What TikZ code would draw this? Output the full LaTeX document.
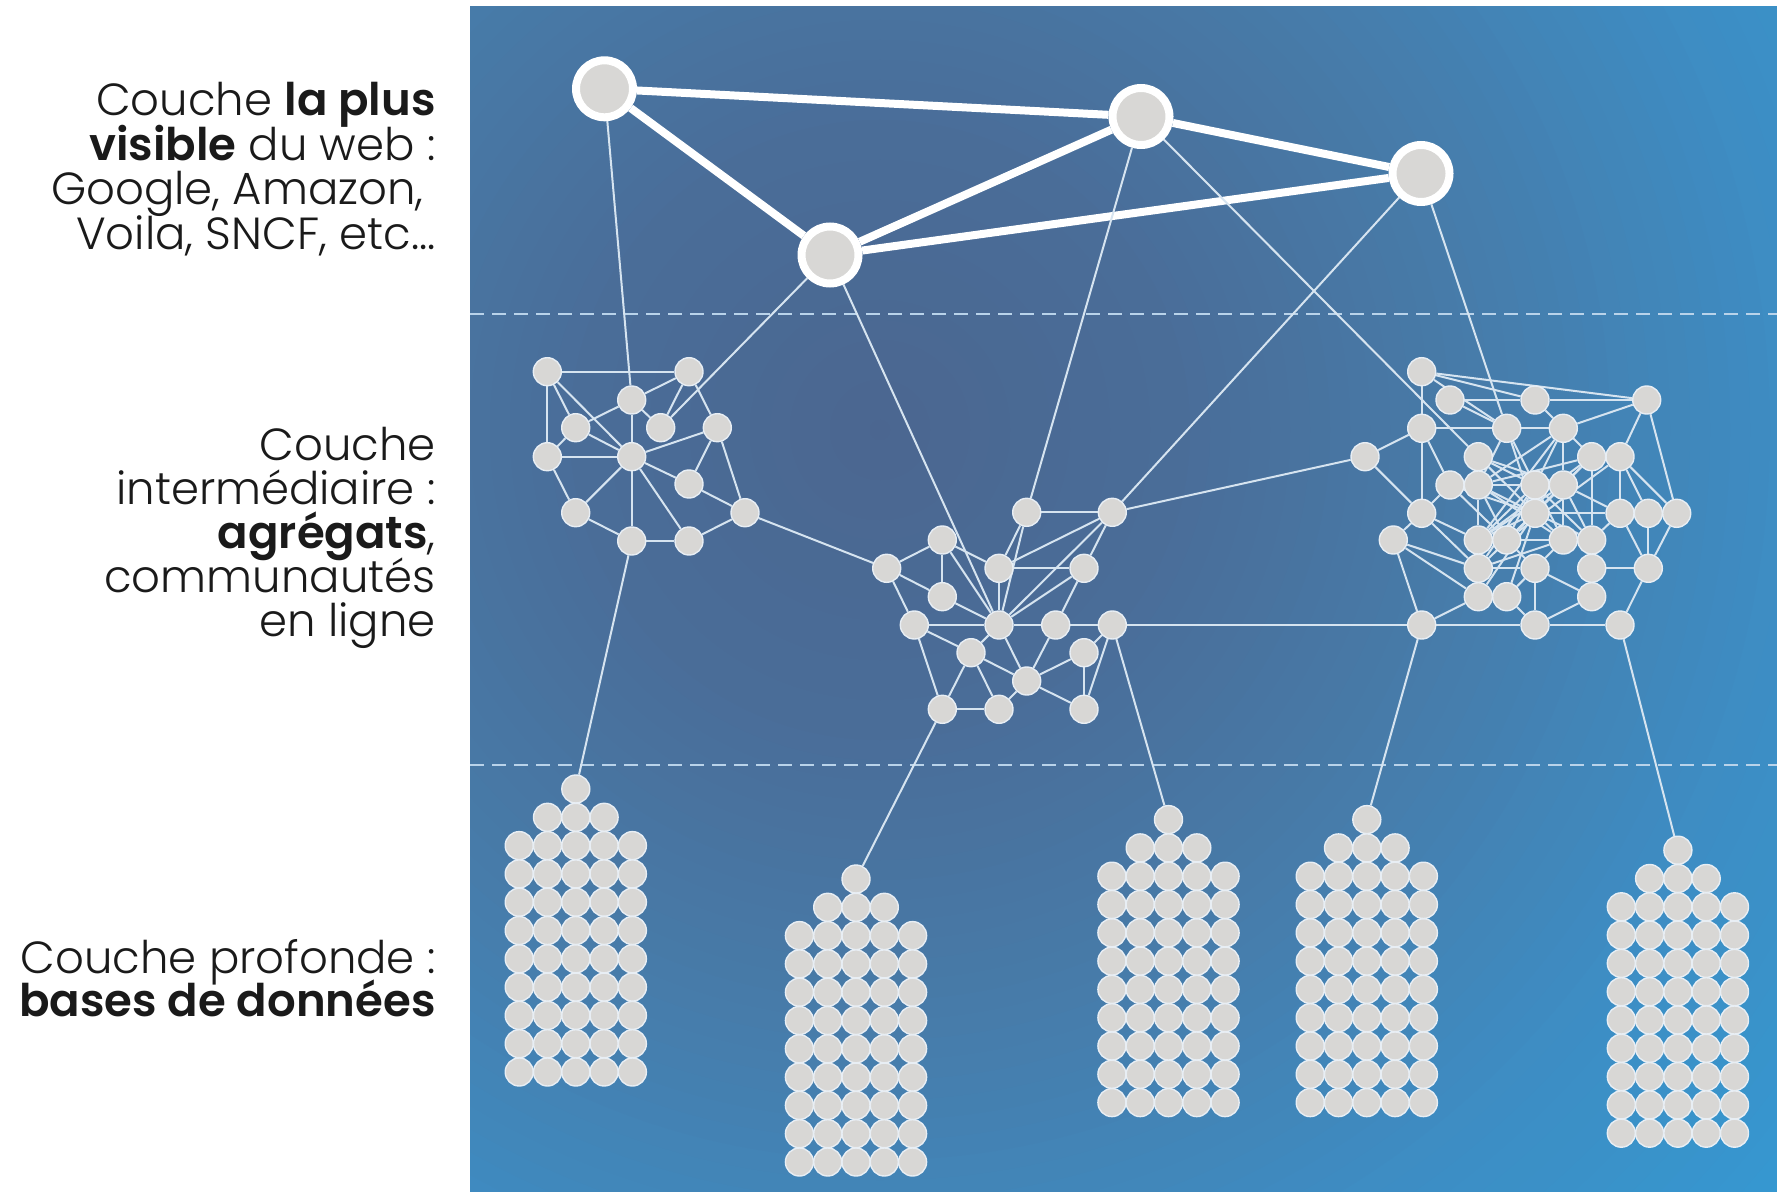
\documentclass[tikz,border=0pt]{standalone}
\usepackage{fontspec}
\setmainfont{Poppins}[UprightFont={* Light},BoldFont={* SemiBold}]
\definecolor{nodegray}{HTML}{D8D7D5}
\definecolor{nodeedge}{HTML}{E8EEF4}
\definecolor{lnkcol}{HTML}{D6E4F0}
\definecolor{dashcol}{HTML}{B9D3EA}
\definecolor{txt}{HTML}{1A1A1A}
\definecolor{bgA}{HTML}{4B6690}
\definecolor{bgB}{HTML}{4A6D98}
\definecolor{bgC}{HTML}{477BA9}
\definecolor{bgD}{HTML}{3E8CC2}
\definecolor{bgE}{HTML}{3598D1}
\pgfdeclarelayer{bg}
\pgfdeclarelayer{edges}
\pgfsetlayers{bg,edges,main}
\begin{document}
\begin{tikzpicture}[x=0.5pt,y=-0.5pt,
  sn/.style={circle,fill=nodegray,draw=nodeedge,line width=0.7pt,minimum size=14pt,inner sep=0pt},
  db/.style={circle,fill=nodegray,draw=nodeedge,line width=0.7pt,minimum size=14pt,inner sep=0pt},
  big/.style={circle,fill=nodegray,draw=white,line width=4pt,minimum size=28.5pt,inner sep=0pt},
  lnk/.style={draw=lnkcol,line width=1pt},
  bigedge/.style={draw=white,line width=4pt},
  dashln/.style={draw=dashcol,line width=1.3pt,dash pattern=on 7pt off 4pt},
  lab/.style={anchor=base east,inner sep=0pt,text=txt,font=\fontsize{22.5}{26}\selectfont}]
\useasboundingbox (0,0) rectangle (1777,1192);
\begin{pgfonlayer}{bg}
  \fill[white] (0,0) rectangle (1777,1192);
  \begin{scope}
    \clip (470,7) rectangle (1777,1192);
    \fill[bgE] (470,7) rectangle (1777,1192);
    \foreach \r in {1250,1230,...,10}{
      \ifdim\r pt>900pt
        \pgfmathsetmacro\p{min(100,(\r-900)/3)}
        \fill[bgE!\p!bgD] (880,430) circle ({\r*0.5pt});
      \else\ifdim\r pt>600pt
        \pgfmathsetmacro\p{(\r-600)/3}
        \fill[bgD!\p!bgC] (880,430) circle ({\r*0.5pt});
      \else\ifdim\r pt>300pt
        \pgfmathsetmacro\p{(\r-300)/3}
        \fill[bgC!\p!bgB] (880,430) circle ({\r*0.5pt});
      \else
        \pgfmathsetmacro\p{\r/3}
        \fill[bgB!\p!bgA] (880,430) circle ({\r*0.5pt});
      \fi\fi\fi
    }
  \end{scope}
  \coordinate (d1a) at (470,314); \coordinate (d1b) at (1777,314);
  \coordinate (d2a) at (470,765); \coordinate (d2b) at (1777,765);
  \draw[dashln] (d1a) -- (d1b);
  \draw[dashln] (d2a) -- (d2b);
\end{pgfonlayer}

% labels
\node[lab] (t1a) at (436,116) {Couche \textbf{la plus}};
\node[lab] (t1b) at (436,160.5) {\textbf{visible} du web :};
\node[lab] (t1c) at (424,205) {Google, Amazon,};
\node[lab] (t1d) at (436,249.5) {Voila, SNCF, etc...};
\node[lab] (t2a) at (436,460) {Couche};
\node[lab] (t2b) at (436,504.5) {intermédiaire :};
\node[lab] (t2c) at (436,548.5) {\textbf{agrégats},};
\node[lab] (t2d) at (436,592.5) {communautés};
\node[lab] (t2e) at (436,636) {en ligne};
\node[lab] (t3a) at (436,973.5) {Couche profonde :};
\node[lab] (t3b) at (436,1016) {\textbf{bases de données}};

% top nodes
\node[big] (T1) at (604.5,88.8) {};
\node[big] (T2) at (1141,116.5) {};
\node[big] (T3) at (1421,173.5) {};
\node[big] (T4) at (830,255) {};

% left cluster
\foreach \n/\x/\y in {L1/547.3/371.7, L2/689/371.7, L3/631.7/400, L4/575.7/427.7, L5/660.7/427.7,
  L6/717.3/427.7, L7/547.3/456.7, L8/631.7/456.7, L9/689/484, L10/575.7/512.7, L11/745/512.7,
  L12/631.7/541, L13/689/541}
  \node[sn] (\n) at (\x,\y) {};

% centre cluster
\foreach \n/\x/\y in {C1/1026.7/512.3, C2/1112.3/512.3, C3/942.3/540, C4/886.7/568.3, C5/999/568.3,
  C6/1084/568.3, C7/942.3/596.7, C8/914.3/625, C9/999/625, C10/1055.7/625, C11/1112.3/625,
  C12/971/652.7, C13/1084/652.7, C14/1026.7/681, C15/942.3/709.3, C16/999/709.3, C17/1084/709.3}
  \node[sn] (\n) at (\x,\y) {};

% right cluster
\foreach \n/\x/\y in {R1/1421.7/371.7, R2/1450/400, R3/1535/400, R4/1421.7/428.3, R5/1506.7/428.3,
  R6/1365/456.7, R7/1478.3/456.7, R8/1450/485, R9/1478.3/485, R10/1535/485, R11/1421.7/513.3,
  R12/1535/513.3, R13/1393.3/540, R14/1478.3/540, R15/1506.7/540, R16/1478.3/568.3, R17/1535/568.3,
  R18/1478.3/596.7, R19/1506.7/596.7, R20/1421.7/625, R21/1535/625, R22/1646.7/400, R23/1563.3/428.3,
  R24/1591.7/456.7, R25/1620/456.7, R26/1563.3/485, R27/1620/513.3, R28/1648.3/513.3, R29/1676.7/513.3,
  R30/1563.3/540, R31/1591.7/540, R32/1591.7/568.3, R33/1648.3/568.3, R34/1591.7/596.7, R35/1620/625}
  \node[sn] (\n) at (\x,\y) {};

% database stacks
\foreach \s/\x/\y in {1/575.8/789, 2/856/879, 3/1168.5/819.6, 4/1366.8/819.6, 5/1677.9/850.2}{
  \node[db] (S\s-0) at (\x,\y) {};
  \foreach \i in {-1,0,1}
    \node[db] (S\s-1-\i) at ({\x+\i*28.3},{\y+28.3}) {};
  \foreach \r in {2,...,10}
    \foreach \i in {-2,...,2}
      \node[db] (S\s-\r-\i) at ({\x+\i*28.3},{\y+\r*28.3}) {};
}

\begin{pgfonlayer}{edges}
  \foreach \a/\b in {T1/T2, T1/T4, T4/T2, T4/T3, T2/T3}
    \draw[bigedge] (\a) -- (\b);
  \foreach \a/\b in {T1/L3, T4/L5, T4/C9, T2/C1, T2/R7, T3/C2, T3/R5,
    L11/C4, C2/R6, C11/R20,
    L12/S1-0, C15/S2-0, C11/S3-0, R20/S4-0, R35/S5-0,
    L1/L2, L1/L7, L1/L4, L1/L8, L2/L3, L2/L5, L2/L6, L3/L4, L3/L8, L3/L5, L4/L8, L4/L7,
    L6/L9, L6/L11, L9/L11, L9/L8, L6/L8, L7/L8, L7/L10, L10/L8, L10/L12, L12/L8, L12/L13,
    L13/L8, L13/L11,
    C1/C2, C1/C5, C1/C9, C2/C5, C2/C9, C2/C6, C3/C4, C3/C7, C3/C5, C3/C9, C4/C7, C4/C8,
    C5/C9, C5/C6, C6/C9, C6/C10, C7/C9, C8/C9, C8/C12, C8/C15, C9/C10, C9/C12, C9/C14,
    C10/C11, C10/C14, C11/C13, C11/C17, C12/C14, C12/C15, C12/C16, C13/C14, C13/C17,
    C14/C16, C15/C16, C14/C17,
    R1/R4, R1/R3, R1/R22, R1/R5, R2/R3, R2/R5, R3/R22, R3/R23, R4/R5, R4/R6, R4/R11, R4/R8,
    R5/R23, R5/R9, R5/R10, R5/R12, R22/R23, R22/R25, R22/R29, R23/R24, R23/R26, R23/R10,
    R23/R9, R24/R14, R24/R12, R25/R27, R25/R28, R25/R29, R25/R15, R6/R11, R11/R13, R11/R14,
    R11/R16, R11/R8, R13/R20, R13/R16, R13/R18, R7/R12, R7/R10, R9/R12, R9/R14, R9/R15,
    R9/R26, R10/R14, R10/R15, R10/R26, R10/R30, R10/R31, R12/R26, R12/R27, R12/R30,
    R12/R31, R12/R16, R8/R15, R14/R26, R26/R30, R26/R27, R26/R31, R27/R33, R28/R33,
    R29/R33, R27/R31, R15/R17, R15/R30, R14/R16, R16/R18, R16/R17, R18/R20, R19/R21,
    R19/R17, R20/R21, R21/R17, R21/R35, R21/R34, R17/R34, R17/R30, R33/R35, R31/R24,
    R32/R33, R14/R12, R15/R26, R14/R31, R15/R31, R9/R30, R7/R26, R8/R12, R16/R10,
    R18/R12, R19/R12, R16/R30, R24/R15, R24/R9, R23/R14}
    \draw[lnk] (\a) -- (\b);
\end{pgfonlayer}
\end{tikzpicture}
\end{document}
